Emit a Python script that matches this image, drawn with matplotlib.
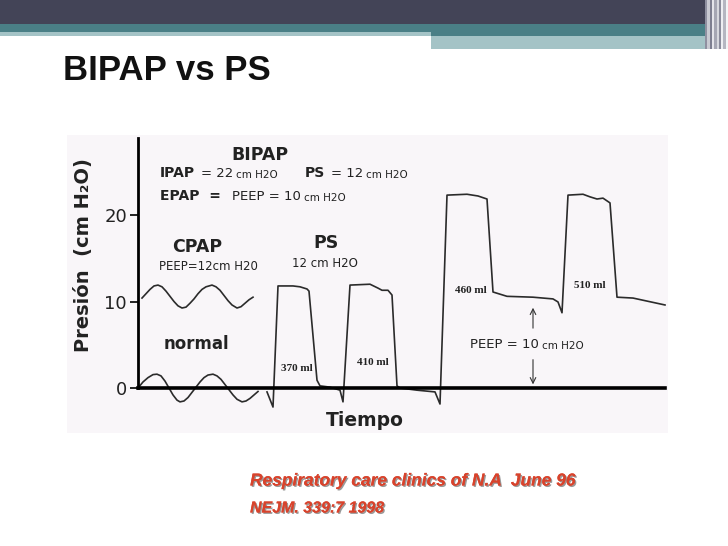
"""
Diapositiva: BIPAP vs PS.

Curvas de presión en el tiempo para respiración normal,
CPAP, PS y BIPAP.
"""

import matplotlib.pyplot as plt
from matplotlib.patches import Rectangle
import matplotlib.patheffects as pe

# ============================================================================ #
# DATOS
# ============================================================================ #

valores_eje_y = [0, 10, 20]

# Respiración normal (oscila alrededor de 0)
tiempo_normal = [0, 5, 10, 15, 19, 23, 27, 31, 35, 39, 42, 46, 50, 54, 58,
                 62, 66, 70, 75, 79, 83, 87, 91, 95, 99, 104, 108, 112, 116, 120]
presion_normal = [0.0, 0.7, 1.2, 1.55, 1.6, 1.4, 0.8, 0.0, -0.8, -1.4, -1.6,
                  -1.5, -1.1, -0.5, 0.1, 0.7, 1.2, 1.5, 1.6, 1.4, 1.0, 0.4,
                  -0.2, -0.8, -1.3, -1.6, -1.5, -1.2, -0.8, -0.4]

# CPAP (oscila alrededor de 10.5)
tiempo_cpap = [4, 8, 12, 16, 20, 24, 28, 32, 36, 40, 44, 48, 52, 56, 60,
               64, 68, 74, 78, 82, 86, 90, 94, 99, 103, 107, 111, 115]
presion_cpap = [10.4, 10.9, 11.4, 11.8, 11.9, 11.7, 11.2, 10.6, 10.0, 9.5,
                9.25, 9.35, 9.8, 10.3, 10.9, 11.4, 11.7, 11.9, 11.7, 11.3,
                10.7, 10.1, 9.6, 9.25, 9.4, 9.8, 10.2, 10.5]

# PS (dos ciclos) seguido de BIPAP (dos ciclos)
tiempo_ps = [129, 135, 140, 155, 162, 169, 171, 179, 182, 192, 202, 205,
             212, 232, 240, 244, 250, 254, 259, 262, 279, 297, 302,
             309, 329, 340, 349, 355, 369, 395, 415, 420, 424,
             430, 445, 452, 459, 465, 472, 479, 495, 527]
presion_ps = [-0.45, -2.2, 11.8, 11.8, 11.7, 11.45, 11.2, 0.9, 0.25, 0.1,
              -0.25, -1.6, 11.9, 12.0, 11.55, 11.3, 11.3, 10.75, 0.25, 0.0,
              -0.25, -0.45, -1.85, 22.3, 22.4, 22.2, 21.85, 11.1, 10.6,
              10.5, 10.3, 9.95, 8.7, 22.3, 22.4, 22.1, 21.85, 21.95, 21.4,
              10.5, 10.4, 9.6]

volumenes = ["370 ml", "410 ml", "460 ml", "510 ml"]

# ============================================================================ #
# FIGURA
# ============================================================================ #

W, H = 728, 546
fig = plt.figure(figsize=(W / 100, H / 100), dpi=100)
fig.patch.set_facecolor("white")


def caja(x0, y0, x1, y1, color):
    """Rectángulo en píxeles de la diapositiva (origen arriba a la izquierda)."""
    fig.patches.append(Rectangle((x0 / W, 1 - y1 / H), (x1 - x0) / W,
                                 (y1 - y0) / H, transform=fig.transFigure,
                                 facecolor=color, edgecolor="none", zorder=0))


# Barras del encabezado
caja(0, 0, 728, 24, "#434457")
caja(0, 24, 705, 32, "#4a7f86")
caja(0, 32, 431, 36, "#a4c3c6")
caja(431, 32, 705, 36, "#4a7f86")
caja(431, 36, 705, 49, "#a4c3c6")

# Franjas verticales a la derecha
franjas = ["#8f90a0", "#c9cad2", "#7d7e90", "#e4e4ea", "#a5a6b3",
           "#d6d7de", "#8a8b9b", "#eeeef2", "#b5b6c1", "#f4f4f6"]
for i, c in enumerate(franjas):
    caja(705 + i * 2.3, 0, 705 + (i + 1) * 2.3, 49, c)

# Título
fig.text(63 / W, 1 - 71 / H, "BIPAP vs PS", fontsize=25, fontweight="bold",
         family="Liberation Sans", color="#111111", va="center", ha="left")

# ============================================================================ #
# GRÁFICO
# ============================================================================ #

ax = fig.add_axes([67 / W, 1 - 433 / H, (668 - 67) / W, (433 - 135) / H])
ax.set_facecolor("#f9f6f9")
ax.set_xlim(-71, 530)
ax.set_ylim(-5.2, 29.25)

for lado in ["top", "right"]:
    ax.spines[lado].set_visible(False)
ax.spines["left"].set_position(("data", 0))
ax.spines["left"].set_bounds(0, 28.9)
ax.spines["left"].set_linewidth(2)
ax.spines["bottom"].set_position(("data", 0))
ax.spines["bottom"].set_bounds(0, 527)
ax.spines["bottom"].set_linewidth(2.6)

ax.set_xticks([])
ax.set_yticks(valores_eje_y)
ax.tick_params(axis="y", direction="out", length=6, width=1.4, pad=2,
               labelsize=13, colors="#222222")

linea = dict(color="#2b2b2b", lw=1.2)
ax.plot(tiempo_normal, presion_normal, **linea)
ax.plot(tiempo_cpap, presion_cpap, **linea)
ax.plot(tiempo_ps, presion_ps, **linea)

# Títulos de los ejes
ax.text(-55, 15.4, "Presión  (cm H₂O)", rotation=90, fontsize=14,
        fontweight="bold", ha="center", va="center", color="#222222")
ax.text(227, -3.7, "Tiempo", fontsize=13.5, fontweight="bold",
        ha="center", va="center", color="#222222")

# Rótulos de los modos
negrita = dict(fontweight="bold", color="#222222")
normal = dict(color="#222222")
ax.text(122, 26.9, "BIPAP", fontsize=12.5, ha="center", va="center", **negrita)
ax.text(59, 16.3, "CPAP", fontsize=12.5, ha="center", va="center", **negrita)
ax.text(188, 16.8, "PS", fontsize=12.5, ha="center", va="center", **negrita)
ax.text(58.5, 5.1, "normal", fontsize=12, ha="center", va="center", **negrita)


def seguir(previo, texto, tam, estilo, hueco=3):
    """Escribe un texto a continuación de otro, sobre la misma línea base."""
    return ax.annotate(texto, xy=(1, 0), xycoords=previo, xytext=(hueco, 0),
                       textcoords="offset points", fontsize=tam,
                       ha="left", va="bottom", **estilo)


t = ax.text(22, 24.0, "IPAP", fontsize=10, ha="left", va="bottom", **negrita)
t = seguir(t, "= 22", 9.5, normal, 4)
t = seguir(t, "cm H2O", 7.5, normal, 2)
t = ax.text(167, 24.0, "PS", fontsize=10, ha="left", va="bottom", **negrita)
t = seguir(t, "= 12", 9.5, normal, 4)
t = seguir(t, "cm H2O", 7.5, normal, 2)

t = ax.text(22, 21.4, "EPAP  =", fontsize=10, ha="left", va="bottom", **negrita)
t = ax.text(94, 21.4, "PEEP = 10", fontsize=9.5, ha="left", va="bottom", **normal)
t = seguir(t, "cm H2O", 7.5, normal, 2)

ax.text(70, 14.0, "PEEP=12cm H20", fontsize=8.5, ha="center", va="center", **normal)
ax.text(187, 14.45, "12 cm H2O", fontsize=8.5, ha="center", va="center", **normal)

# Volúmenes corrientes
serif = dict(family="Liberation Serif", fontweight="bold", fontsize=8,
             color="#222222", ha="center", va="center")
posiciones_vol = [(159, 2.2), (235, 2.9), (333, 11.3), (452, 11.9)]
for texto, (x, p) in zip(volumenes, posiciones_vol):
    ax.text(x, p, texto, **serif)

# PEEP con flecha doble
ax.annotate("", xy=(395, 9.6), xytext=(395, 6.6),
            arrowprops=dict(arrowstyle="->", color="#333333", lw=0.8))
ax.annotate("", xy=(395, 0.1), xytext=(395, 3.6),
            arrowprops=dict(arrowstyle="->", color="#333333", lw=0.8))
t = ax.text(332, 4.3, "PEEP = 10", fontsize=9.5, ha="left", va="bottom", **normal)
t = seguir(t, "cm H2O", 7.5, normal, 2)

# ============================================================================ #
# REFERENCIAS
# ============================================================================ #

sombra = [pe.withSimplePatchShadow(offset=(1, -1), shadow_rgbFace="#555555",
                                   alpha=0.6), pe.Normal()]
ref = dict(fontweight="bold", style="italic", family="Liberation Sans",
           color="#d8432c", ha="left", va="center", path_effects=sombra)
fig.text(250 / W, 1 - 481 / H, "Respiratory care clinics of N.A  June 96",
         fontsize=12.5, **ref)
fig.text(250 / W, 1 - 508 / H, "NEJM. 339:7 1998", fontsize=11.5, **ref)

fig.savefig("out.png", dpi=100)
